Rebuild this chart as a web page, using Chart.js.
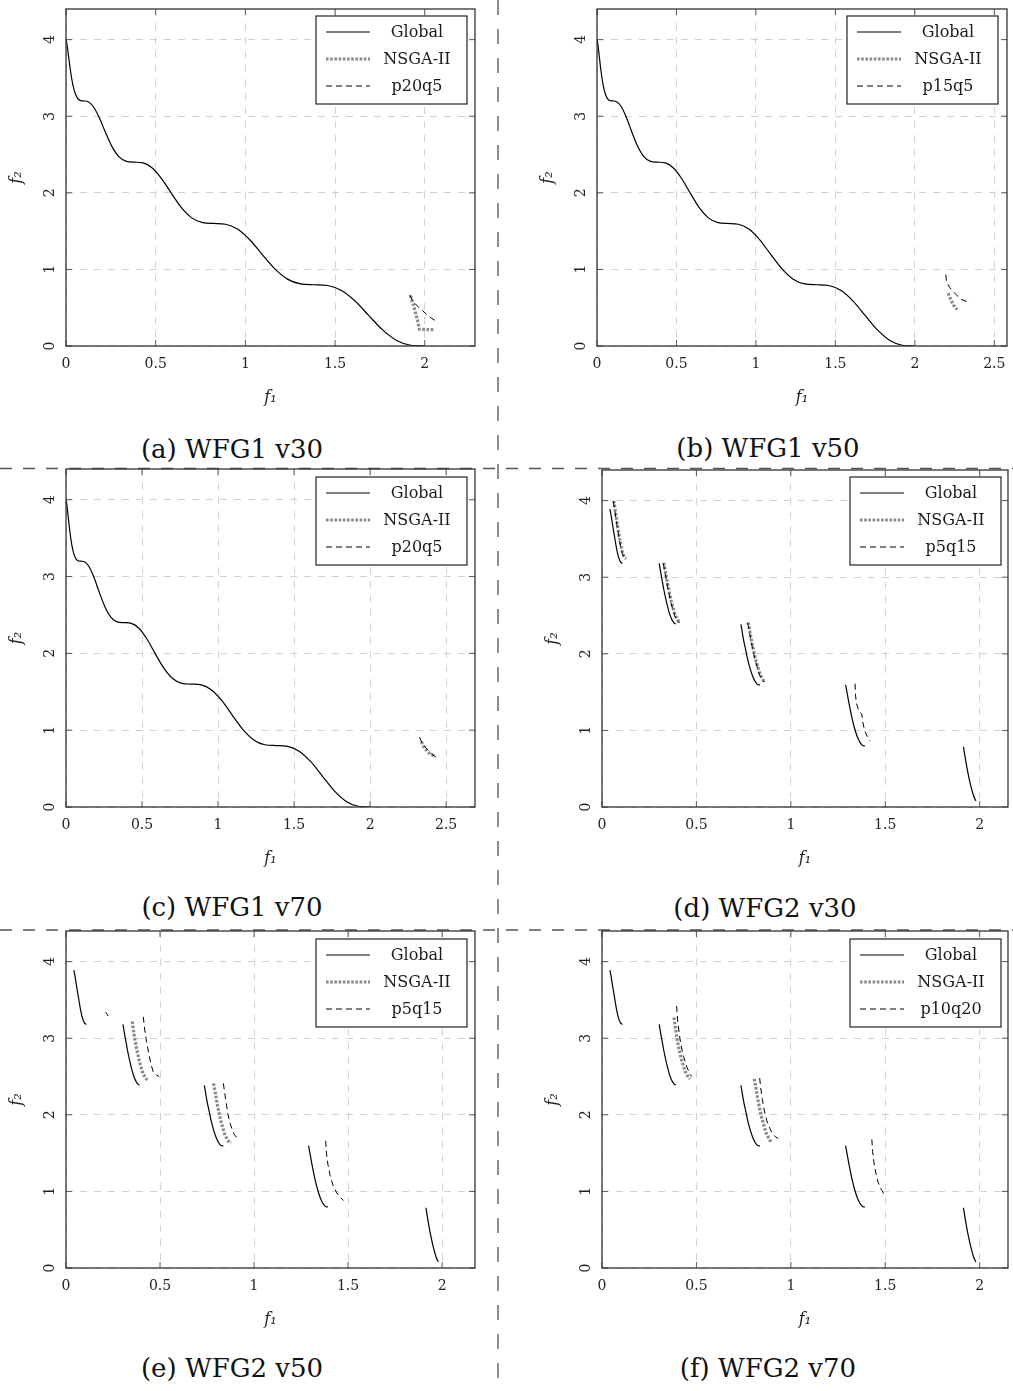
<!DOCTYPE html>
<html>
<head>
<meta charset="utf-8">
<script src="https://cdn.jsdelivr.net/npm/chart.js@4.4.1/dist/chart.umd.min.js"></script>
<style>
html,body{margin:0;padding:0;background:#fff;}
body{width:1013px;height:1391px;position:relative;overflow:hidden;}
.panel{position:absolute;}
.cap{position:absolute;font-family:'DejaVu Serif',serif;font-size:26px;color:#111;white-space:nowrap;transform:translate(-50%,-50%);line-height:1;}
svg.sep{position:absolute;left:0;top:0;pointer-events:none;}
</style>
</head>
<body>
<svg class="sep" width="1013" height="1391">
  <line x1="0" y1="468.5" x2="1013" y2="468.5" stroke="#555" stroke-width="1.3" stroke-dasharray="12 11"/>
  <line x1="0" y1="930" x2="1013" y2="930" stroke="#555" stroke-width="1.3" stroke-dasharray="12 11"/>
  <line x1="498" y1="0" x2="498" y2="1391" stroke="#555" stroke-width="1.3" stroke-dasharray="15 14"/>
</svg>
<script>
// ---------- tick values ----------
const yTicks = [0, 1, 2, 3, 4];
const xTicksTo2 = [0, 0.5, 1, 1.5, 2];
const xTicksTo25 = [0, 0.5, 1, 1.5, 2, 2.5];

// ---------- series names ----------
const globalName = 'Global';
const nsgaName = 'NSGA-II';

// ---------- WFG1 global front (f1, f2) ----------
const wfg1Global = [
  [0,4.000],[0.0015,3.990],[0.0062,3.927],[0.0139,3.790],[0.0246,3.600],[0.0384,3.410],
  [0.0553,3.273],[0.0751,3.210],[0.0979,3.200],[0.1236,3.190],[0.1522,3.127],[0.1837,2.990],
  [0.2180,2.800],[0.2550,2.610],[0.2947,2.473],[0.3371,2.410],[0.3820,2.400],[0.4294,2.390],
  [0.4792,2.327],[0.5314,2.190],[0.5858,2.000],[0.6424,1.810],[0.7011,1.673],[0.7618,1.610],
  [0.8244,1.600],[0.8889,1.590],[0.9550,1.527],[1.0228,1.390],[1.0920,1.200],[1.1627,1.010],
  [1.2346,0.873],[1.3078,0.810],[1.3820,0.800],[1.4571,0.790],[1.5331,0.727],[1.6098,0.590],
  [1.6871,0.400],[1.7649,0.210],[1.8431,0.073],[1.9215,0.010],[2.0000,0.000]
];

// (a) WFG1 v30
const aNsga = [[1.920,0.66],[1.935,0.55],[1.950,0.42],[1.962,0.31],[1.970,0.22],[2.010,0.215],[2.055,0.215]];
const aP20q5 = [[1.916,0.665],[1.935,0.58],[1.972,0.49],[2.028,0.38],[2.068,0.315]];
// (b) WFG1 v50
const bNsga = [[2.210,0.69],[2.225,0.61],[2.245,0.53],[2.266,0.475]];
const bP15q5 = [[2.195,0.93],[2.199,0.84],[2.220,0.76],[2.260,0.67],[2.290,0.61],[2.350,0.56]];
// (c) WFG1 v70
const cNsga = [[2.337,0.85],[2.360,0.76],[2.390,0.70],[2.430,0.655]];
const cP20q5 = [[2.325,0.91],[2.345,0.82],[2.372,0.76],[2.410,0.68],[2.452,0.63]];

// ---------- WFG2 global front (disconnected, null = gap) ----------
const wfg2Global = [
  [0.042,3.89],[0.048,3.81],[0.055,3.70],[0.063,3.58],[0.071,3.46],[0.079,3.35],[0.088,3.26],[0.098,3.20],[0.108,3.18], null,
  [0.303,3.18],[0.311,3.06],[0.320,2.94],[0.328,2.83],[0.346,2.63],[0.364,2.48],[0.382,2.40],[0.391,2.39], null,
  [0.735,2.386],[0.7375,2.357],[0.749,2.19],[0.762,2.04],[0.774,1.90],[0.799,1.70],[0.824,1.60],[0.837,1.595], null,
  [1.290,1.597],[1.293,1.555],[1.308,1.354],[1.3225,1.178],[1.337,1.031],[1.352,0.917],[1.367,0.840],[1.382,0.800],[1.392,0.797], null,
  [1.914,0.787],[1.9215,0.671],[1.937,0.454],[1.953,0.275],[1.969,0.137],[1.980,0.080]
];

// (d) WFG2 v30
const dNsga = [
  [0.062,4.00],[0.068,3.91],[0.075,3.79],[0.083,3.66],[0.091,3.54],[0.099,3.43],[0.108,3.33],[0.118,3.26],[0.128,3.24], null,
  [0.327,3.19],[0.335,3.08],[0.344,2.96],[0.352,2.85],[0.370,2.65],[0.388,2.50],[0.406,2.42],[0.414,2.415], null,
  [0.772,2.41],[0.777,2.38],[0.788,2.22],[0.801,2.06],[0.813,1.93],[0.837,1.73],[0.855,1.65],[0.864,1.64]
];
const dP5q15 = [
  [0.060,3.99],[0.066,3.90],[0.073,3.78],[0.081,3.65],[0.089,3.53],[0.097,3.42],[0.106,3.32],[0.116,3.26],[0.126,3.235], null,
  [0.325,3.18],[0.333,3.07],[0.342,2.95],[0.350,2.84],[0.368,2.64],[0.386,2.49],[0.404,2.42],[0.412,2.41], null,
  [0.770,2.40],[0.775,2.37],[0.786,2.21],[0.799,2.05],[0.811,1.92],[0.835,1.72],[0.853,1.645],[0.862,1.635], null,
  [1.340,1.61],[1.343,1.45],[1.347,1.36],[1.360,1.25],[1.375,1.22],[1.382,1.10],[1.390,1.00],[1.405,0.92],[1.420,0.86]
];
// (e) WFG2 v50
const eNsga = [
  [0.352,3.22],[0.358,3.11],[0.366,2.99],[0.374,2.88],[0.391,2.69],[0.409,2.54],[0.426,2.47],[0.434,2.46], null,
  [0.784,2.41],[0.788,2.37],[0.799,2.21],[0.811,2.06],[0.822,1.93],[0.846,1.73],[0.868,1.64],[0.878,1.63]
];
const eP5q15 = [
  [0.211,3.34],[0.225,3.29], null,
  [0.411,3.28],[0.418,3.12],[0.428,2.96],[0.440,2.80],[0.452,2.66],[0.464,2.56],[0.480,2.52],[0.495,2.50], null,
  [0.837,2.41],[0.843,2.30],[0.852,2.15],[0.862,2.00],[0.875,1.87],[0.893,1.75],[0.917,1.67], null,
  [1.381,1.66],[1.385,1.50],[1.393,1.35],[1.405,1.20],[1.420,1.08],[1.440,0.98],[1.460,0.92],[1.475,0.88]
];
// (f) WFG2 v70
const fNsga = [
  [0.381,3.27],[0.388,3.15],[0.396,3.02],[0.404,2.90],[0.421,2.72],[0.440,2.57],[0.457,2.49],[0.466,2.47], null,
  [0.806,2.47],[0.811,2.42],[0.821,2.26],[0.833,2.10],[0.845,1.97],[0.868,1.77],[0.888,1.67],[0.897,1.65]
];
const fP10q20 = [
  [0.395,3.42],[0.400,3.25],[0.408,3.08],[0.417,2.92],[0.432,2.76],[0.450,2.62],[0.466,2.53],[0.475,2.50], null,
  [0.835,2.48],[0.840,2.36],[0.849,2.20],[0.860,2.05],[0.873,1.92],[0.895,1.79],[0.915,1.72],[0.933,1.69], null,
  [1.429,1.68],[1.433,1.52],[1.440,1.38],[1.450,1.24],[1.462,1.12],[1.478,1.03],[1.492,0.97],[1.500,0.95]
];

// ---------- panel layout ----------
const panels = [
  {left:66,  top:9,   right:475,  bottom:346,  xMax:2.28,  xTicks:xTicksTo2,  global:wfg1Global, nsga:aNsga, prop:aP20q5,  propName:'p20q5',  caption:'(a) WFG1 v30', capX:232, capY:449,  lgRight:8, lgTop:7, mono:true},
  {left:597, top:9,   right:1007, bottom:346,  xMax:2.58,  xTicks:xTicksTo25, global:wfg1Global, nsga:bNsga, prop:bP15q5,  propName:'p15q5',  caption:'(b) WFG1 v50', capX:768, capY:448,  lgRight:9, lgTop:7, mono:true},
  {left:66,  top:469, right:475,  bottom:807,  xMax:2.69,  xTicks:xTicksTo25, global:wfg1Global, nsga:cNsga, prop:cP20q5,  propName:'p20q5',  caption:'(c) WFG1 v70', capX:232, capY:907,  lgRight:8, lgTop:8, mono:true},
  {left:602, top:470, right:1008, bottom:807,  xMax:2.15,  xTicks:xTicksTo2,  global:wfg2Global, nsga:dNsga, prop:dP5q15,  propName:'p5q15',  caption:'(d) WFG2 v30', capX:765, capY:908,  lgRight:7, lgTop:7, mono:true},
  {left:66,  top:931, right:475,  bottom:1268, xMax:2.175, xTicks:xTicksTo2,  global:wfg2Global, nsga:eNsga, prop:eP5q15,  propName:'p5q15',  caption:'(e) WFG2 v50', capX:232, capY:1368, lgRight:8, lgTop:8, mono:true},
  {left:602, top:931, right:1008, bottom:1268, xMax:2.15,  xTicks:xTicksTo2,  global:wfg2Global, nsga:fNsga, prop:fP10q20, propName:'p10q20', caption:'(f) WFG2 v70', capX:768, capY:1368, lgRight:7, lgTop:8, mono:true}
];

const Y_AXIS_W = 66, X_AXIS_H = 70, PAD_TOP = 9, PAD_RIGHT = 10;
const SERIF = "'DejaVu Serif', serif";
Chart.defaults.font.family = SERIF;

function toPoints(arr) {
  return arr.map(p => p ? {x: p[0], y: p[1]} : {x: null, y: null});
}

// frame + inside ticks (pgfplots style)
const framePlugin = {
  id: 'frame',
  afterDatasetsDraw(chart) {
    const {ctx, chartArea: a} = chart;
    const xs = chart.scales.x, ys = chart.scales.y;
    ctx.save();
    ctx.setLineDash([]);
    ctx.strokeStyle = '#5a5a5a';
    ctx.lineWidth = 1;
    ctx.beginPath();
    xs.ticks.forEach(t => {
      const px = xs.getPixelForValue(t.value);
      ctx.moveTo(px, a.bottom); ctx.lineTo(px, a.bottom - 6);
      ctx.moveTo(px, a.top); ctx.lineTo(px, a.top + 6);
    });
    ys.ticks.forEach(t => {
      const py = ys.getPixelForValue(t.value);
      ctx.moveTo(a.left, py); ctx.lineTo(a.left + 6, py);
      ctx.moveTo(a.right, py); ctx.lineTo(a.right - 6, py);
    });
    ctx.stroke();
    ctx.strokeStyle = '#333';
    ctx.lineWidth = 1.3;
    ctx.strokeRect(a.left, a.top, a.right - a.left, a.bottom - a.top);
    ctx.restore();
  }
};

// boxed legend in the upper right of the plot area
const boxLegend = {
  id: 'boxLegend',
  afterDraw(chart, args, o) {
    const {ctx, chartArea: a} = chart;
    const left = a.right - o.right - o.width;
    const top = a.top + o.top;
    ctx.save();
    ctx.setLineDash([]);
    ctx.fillStyle = '#fff';
    ctx.fillRect(left, top, o.width, o.height);
    ctx.strokeStyle = '#222';
    ctx.lineWidth = 1.2;
    ctx.strokeRect(left, top, o.width, o.height);
    let i = 0;
    chart.data.datasets.forEach(ds => {
      const cy = top + 16 + i * 27;
      ctx.beginPath();
      ctx.strokeStyle = ds.borderColor;
      ctx.lineWidth = ds.borderWidth;
      ctx.setLineDash(ds.borderDash || []);
      ctx.moveTo(left + 10, cy);
      ctx.lineTo(left + 54, cy);
      ctx.stroke();
      ctx.setLineDash([]);
      ctx.fillStyle = '#1a1a1a';
      ctx.font = "16px " + SERIF;
      ctx.textAlign = 'center';
      ctx.textBaseline = 'middle';
      ctx.fillText(ds.label, left + 101, cy + 1);
      i++;
    });
    ctx.restore();
  }
};

panels.forEach(p => {
  const W = (p.right - p.left) + Y_AXIS_W + PAD_RIGHT;
  const H = (p.bottom - p.top) + PAD_TOP + X_AXIS_H;
  const div = document.createElement('div');
  div.className = 'panel';
  div.style.left = (p.left - Y_AXIS_W) + 'px';
  div.style.top = (p.top - PAD_TOP) + 'px';
  div.style.width = W + 'px';
  div.style.height = H + 'px';
  const cv = document.createElement('canvas');
  cv.width = W; cv.height = H;
  cv.style.width = W + 'px'; cv.style.height = H + 'px';
  div.appendChild(cv);
  document.body.appendChild(div);

  const cap = document.createElement('div');
  cap.className = 'cap';
  cap.style.left = p.capX + 'px';
  cap.style.top = p.capY + 'px';
  cap.textContent = p.caption;
  document.body.appendChild(cap);

  new Chart(cv, {
    type: 'scatter',
    data: {
      datasets: [
        {label: globalName, data: toPoints(p.global), showLine: true, borderColor: '#000', borderWidth: 1.2,
         borderDash: [], cubicInterpolationMode: 'monotone', pointRadius: 0, pointHoverRadius: 0, order: 2},
        {label: nsgaName, data: toPoints(p.nsga), showLine: true, borderColor: '#8a8a8a', borderWidth: 3.2,
         borderDash: [2.6, 1.6], tension: 0, pointRadius: 0, pointHoverRadius: 0, order: 1},
        {label: p.propName, data: toPoints(p.prop), showLine: true, borderColor: '#000', borderWidth: 1,
         borderDash: [6, 4], tension: 0, pointRadius: 0, pointHoverRadius: 0, order: 0}
      ]
    },
    options: {
      responsive: false,
      devicePixelRatio: 1,
      animation: false,
      events: [],
      spanGaps: false,
      layout: {padding: {left: 0, top: PAD_TOP, right: PAD_RIGHT, bottom: 0}},
      plugins: {
        legend: {display: false},
        tooltip: {enabled: false},
        boxLegend: {right: p.lgRight, top: p.lgTop, width: 151, height: 88}
      },
      scales: {
        x: {
          type: 'linear', position: 'bottom', min: 0, max: p.xMax,
          afterBuildTicks: s => { s.ticks = p.xTicks.map(v => ({value: v})); },
          afterFit: s => { s.height = X_AXIS_H; s.paddingLeft = 0; s.paddingRight = 0; },
          grid: {color: '#d2d2d2', lineWidth: 1, drawTicks: false},
          border: {display: false, dash: [7, 7]},
          ticks: {autoSkip: false, maxRotation: 0, padding: 10, color: '#222',
                  font: {family: SERIF, size: 14}, callback: v => String(v)},
          title: {display: true, text: 'f₁', color: '#222',
                  font: {family: SERIF, size: 16, style: 'italic'}, padding: {top: 0, bottom: 9}}
        },
        y: {
          type: 'linear', position: 'left', min: 0, max: 4.4,
          afterBuildTicks: s => { s.ticks = yTicks.map(v => ({value: v})); },
          afterFit: s => { s.width = Y_AXIS_W; s.paddingTop = 0; s.paddingBottom = 0; },
          grid: {color: '#d2d2d2', lineWidth: 1, drawTicks: false},
          border: {display: false, dash: [7, 7]},
          ticks: {autoSkip: false, minRotation: 90, maxRotation: 90, crossAlign: 'center', padding: 11,
                  color: '#222', font: {family: SERIF, size: 14}, callback: v => String(v)},
          title: {display: true, text: 'f₂', color: '#222',
                  font: {family: SERIF, size: 16, style: 'italic'}, padding: {top: 7, bottom: 0}}
        }
      }
    },
    plugins: [framePlugin, boxLegend]
  });
});
</script>
</body>
</html>
